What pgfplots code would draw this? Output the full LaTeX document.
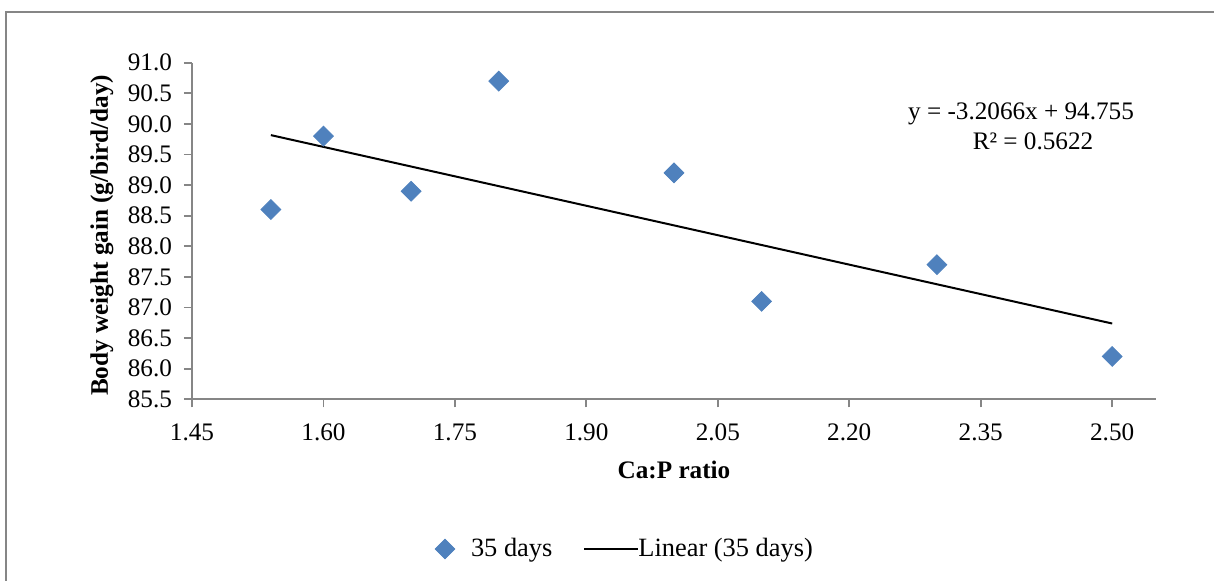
\documentclass[border=0pt]{standalone}
\usepackage{fontspec}
\setmainfont{Liberation Serif}
\usepackage{pgfplots}
\pgfplotsset{compat=1.18}
\definecolor{excelblue}{HTML}{4F81BD}
\definecolor{axgray}{HTML}{868686}
\pgfplotsset{
  markimg/.style={legend image code/.code={\draw[##1, only marks] plot coordinates {(6pt,0pt)}; \path[draw=none] (0pt,0pt) -- (17pt,0pt);}},
  lineimg/.style={legend image code/.code={\draw[##1, overlay] (0pt,0pt) -- (27pt,0pt); \path[draw=none] (0pt,0pt) -- (25pt,0pt);}},
}
\begin{document}
\begin{tikzpicture}
\path[use as bounding box] (-96pt,-90.35pt) rectangle (511pt,199.65pt);
\draw[axgray, line width=1pt] (-92.75pt,-91pt) -- (-92.75pt,193.65pt) -- (512pt,193.65pt);
\begin{axis}[
  at={(0,0)}, anchor=south west,
  scale only axis, width=482pt, height=168.3pt,
  xmin=1.45, xmax=2.55, ymin=85.5, ymax=91.0,
  axis lines*=left,
  axis line style={axgray, line width=0.9pt},
  tick style={axgray, line width=0.9pt},
  major tick length=4pt, tick align=outside,
  xtick={1.45,1.60,1.75,1.90,2.05,2.20,2.35,2.50},
  ytick={85.5,86.0,86.5,87.0,87.5,88.0,88.5,89.0,89.5,90.0,90.5,91.0},
  /pgf/number format/assume math mode=true,
  tick label style={font=\fontsize{12.6}{14}\selectfont, black},
  xticklabel style={yshift=-4.5pt, /pgf/number format/.cd, fixed, fixed zerofill, precision=2},
  yticklabel style={xshift=-2.5pt, /pgf/number format/.cd, fixed, fixed zerofill, precision=1},
  legend columns=2,
  legend style={draw=none, fill=none, inner sep=0pt, outer sep=0pt,
    at={(rel axis cs:0.250,-0.4447)}, anchor=west,
    font=\fontsize{13.2}{15}\selectfont,
    /tikz/every even column/.append style={column sep=14pt}},
]
\addplot[only marks, mark=square*, mark size=3.5pt,
  mark options={rotate=45, fill=excelblue, draw=excelblue}, markimg]
  coordinates {(1.54,88.6) (1.60,89.8) (1.70,88.9) (1.80,90.7) (2.00,89.2) (2.10,87.1) (2.30,87.7) (2.50,86.2)};
\addlegendentry{35 days}
\addplot[black, line width=1pt, mark=none, lineimg]
  coordinates {(1.54,89.8168) (2.50,86.7385)};
\addlegendentry{Linear (35 days)}
\end{axis}
\node[anchor=base, font=\fontsize{12.6}{14}\selectfont] at (414.5pt,140pt) {y = -3.2066x + 94.755};
\node[anchor=base, font=\fontsize{12.6}{14}\selectfont] at (420.5pt,125pt) {R² = 0.5622};
\node[anchor=base, font=\fontsize{12.6}{14}\selectfont\bfseries] at (241pt,-39.35pt) {Ca:P ratio};
\node[anchor=base, rotate=90, font=\fontsize{12.6}{14}\selectfont\bfseries] at (-42pt,82pt) {Body weight gain (g/bird/day)};
\end{tikzpicture}
\end{document}
